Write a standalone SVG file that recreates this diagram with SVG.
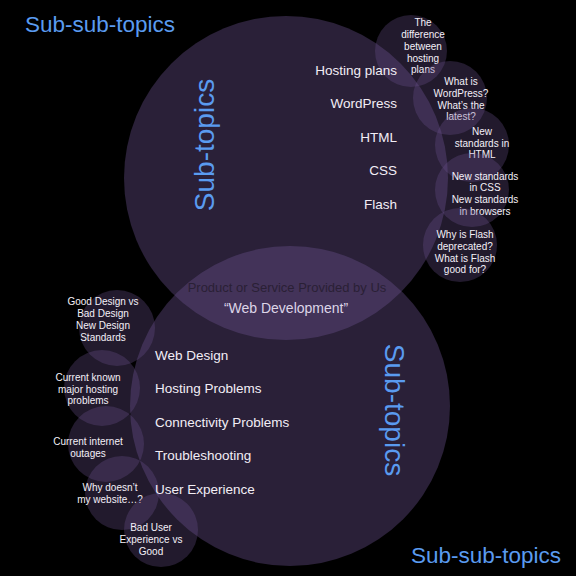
<svg xmlns="http://www.w3.org/2000/svg" width="576" height="576" viewBox="0 0 576 576">
<style>
.big{fill:#69508c;fill-opacity:0.4}
.sm{fill:#69508c;fill-opacity:0.32}
text{font-family:"Liberation Sans",Arial,sans-serif}
.title{fill:#5a9bf0;font-size:22.5px}
.vt{fill:#5a9bf0;font-size:28px;text-anchor:middle}
.lbl{fill:#f2eef6;font-size:13.5px}
.st{fill:#f4f0f8;font-size:10px;text-anchor:middle}
.lens1{fill:#2a2035;font-size:13px;text-anchor:middle}
.lens2{fill:#ddd5e8;font-size:14px;text-anchor:middle}
</style>
<rect width="576" height="576" fill="#000"/>
<g id="top-circle"><circle class="big" cx="286" cy="178" r="162"/></g>
<g id="bottom-circle"><circle class="big" cx="290" cy="406" r="160"/></g>
<g id="sst-hosting"><circle class="sm" cx="411" cy="51" r="36"/>
<text class="st"><tspan x="423" y="26">The</tspan><tspan x="423" y="38">difference</tspan><tspan x="423" y="50">between</tspan><tspan x="423" y="62">hosting</tspan><tspan x="423" y="73">plans</tspan></text></g>
<g id="sst-wordpress"><circle class="sm" cx="450" cy="98" r="37"/>
<text class="st"><tspan x="461" y="85">What is</tspan><tspan x="461" y="97">WordPress?</tspan><tspan x="461" y="109">What’s the</tspan><tspan x="461" y="120">latest?</tspan></text></g>
<g id="sst-html"><circle class="sm" cx="472" cy="145" r="37"/>
<text class="st"><tspan x="482" y="135">New</tspan><tspan x="482" y="147">standards in</tspan><tspan x="482" y="158">HTML</tspan></text></g>
<g id="sst-css"><circle class="sm" cx="472" cy="190" r="37"/>
<text class="st"><tspan x="485" y="180">New standards</tspan><tspan x="485" y="191">in CSS</tspan><tspan x="485" y="203">New standards</tspan><tspan x="485" y="215">in browsers</tspan></text></g>
<g id="sst-flash"><circle class="sm" cx="460" cy="245" r="37"/>
<text class="st"><tspan x="465" y="238">Why is Flash</tspan><tspan x="465" y="250">deprecated?</tspan><tspan x="465" y="262">What is Flash</tspan><tspan x="465" y="273">good for?</tspan></text></g>
<g id="sst-design"><circle class="sm" cx="117" cy="328" r="38"/>
<text class="st"><tspan x="103" y="305">Good Design vs</tspan><tspan x="103" y="317">Bad Design</tspan><tspan x="103" y="329">New Design</tspan><tspan x="103" y="341">Standards</tspan></text></g>
<g id="sst-hostprob"><circle class="sm" cx="102" cy="388" r="38"/>
<text class="st"><tspan x="88" y="381">Current known</tspan><tspan x="88" y="393">major hosting</tspan><tspan x="88" y="404">problems</tspan></text></g>
<g id="sst-outages"><circle class="sm" cx="106" cy="444" r="38"/>
<text class="st"><tspan x="88" y="445">Current internet</tspan><tspan x="88" y="457">outages</tspan></text></g>
<g id="sst-website"><circle class="sm" cx="122" cy="493" r="37"/>
<text class="st"><tspan x="110" y="491">Why doesn’t</tspan><tspan x="110" y="503">my website…?</tspan></text></g>
<g id="sst-ux"><circle class="sm" cx="161" cy="530" r="37"/>
<text class="st"><tspan x="151" y="531">Bad User</tspan><tspan x="151" y="543">Experience vs</tspan><tspan x="151" y="555">Good</tspan></text></g>
<g id="top-labels" text-anchor="end">
<text class="lbl" x="397" y="75">Hosting plans</text>
<text class="lbl" x="397" y="108">WordPress</text>
<text class="lbl" x="397" y="142">HTML</text>
<text class="lbl" x="397" y="175">CSS</text>
<text class="lbl" x="397" y="209">Flash</text>
</g>
<g id="bottom-labels">
<text class="lbl" x="155" y="360">Web Design</text>
<text class="lbl" x="155" y="393">Hosting Problems</text>
<text class="lbl" x="155" y="427">Connectivity Problems</text>
<text class="lbl" x="155" y="460">Troubleshooting</text>
<text class="lbl" x="155" y="494">User Experience</text>
</g>
<g id="center">
<text class="lens1" x="287" y="292">Product or Service Provided by Us</text>
<text class="lens2" x="286" y="313">“Web Development”</text>
</g>
<g id="titles">
<text class="title" x="25" y="32">Sub-sub-topics</text>
<text class="title" x="411" y="563">Sub-sub-topics</text>
<text class="vt" transform="translate(214,145) rotate(-90)">Sub-topics</text>
<text class="vt" transform="translate(385,410) rotate(90)">Sub-topics</text>
</g>
<g id="connectors"/>
</svg>
